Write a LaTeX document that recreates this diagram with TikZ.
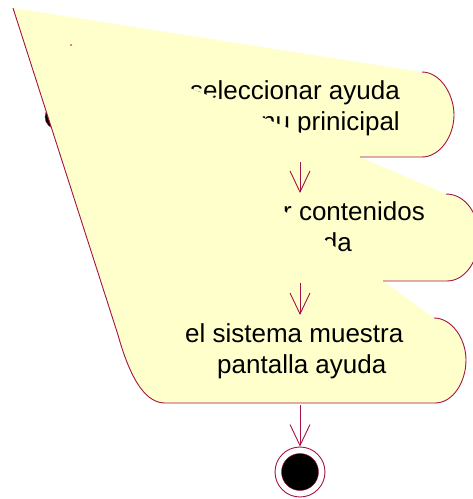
\documentclass[tikz,border=0pt]{standalone}
\usepackage{fontspec}
\setmainfont{Liberation Sans}
\usetikzlibrary{arrows.meta}
\definecolor{notefill}{RGB}{255,255,204}
\definecolor{umlline}{RGB}{165,18,68}
\tikzset{
  txt/.style={font=\fontsize{26}{31}\selectfont, inner sep=0pt, text=black},
  edgeline/.style={draw=umlline, line width=0.9pt},
  conn/.style={draw=umlline, line width=0.9pt, line join=round,
    -{Straight Barb[length=21pt,width=20pt,line width=0.9pt]}},
}
\begin{document}
\begin{tikzpicture}[x=1pt,y=-1pt]
\useasboundingbox (0,0) rectangle (473,499);
\clip (0,0) rectangle (473,499);
% initial node (mostly hidden)
\node[circle, fill=black, draw=umlline, minimum size=24pt, inner sep=0pt] (ini) at (57,117) {};
% distorted yellow shape
\fill[notefill] (13,8) -- (422,72)
  .. controls (440,72) and (454,94) .. (454,115)
  .. controls (454,136) and (440,157) .. (422,157)
  -- (360,157) -- (446,194)
  .. controls (466,194) and (479,215) .. (479,237)
  .. controls (479,259) and (466,281) .. (447,281)
  -- (383,281) -- (434,318)
  .. controls (452,318) and (466,339) .. (466,360)
  .. controls (466,382) and (453,403) .. (435,403)
  -- (165,403)
  .. controls (148,403) and (132,385) .. (118,335)
  -- cycle;
% stroked outline parts
\draw[edgeline] (422,72)
  .. controls (440,72) and (454,94) .. (454,115)
  .. controls (454,136) and (440,157) .. (422,157) -- (360,157);
\draw[edgeline] (446,194)
  .. controls (466,194) and (479,215) .. (479,237)
  .. controls (479,259) and (466,281) .. (447,281) -- (383,281);
\draw[edgeline] (434,318)
  .. controls (452,318) and (466,339) .. (466,360)
  .. controls (466,382) and (453,403) .. (435,403)
  -- (165,403)
  .. controls (148,403) and (132,385) .. (118,335) -- (13,8);
% texts
\node[txt, anchor=base east] (a1a) at (400,99) {seleccionar ayuda};
\node[txt, anchor=base east] (a1b) at (400,130) {nu prinicipal};
\node[txt, anchor=base east] (a2a) at (425,220.5) {r contenidos};
\node[txt, anchor=base east] (a2b) at (352,251.5) {da};
\node[txt, anchor=base west] (a3a) at (185,342) {el sistema muestra};
\node[txt, anchor=base west] (a3b) at (217,373) {pantalla ayuda};
% covering pieces
\fill[notefill] (360,157) -- (180,84) -- (180,157) -- cycle;
\fill[notefill] (383,281) -- (250,186.6) -- (250,281) -- cycle;
% small mark
\fill[umlline] (71,45) circle (0.8pt);
% final node
\node[circle, draw=umlline, fill=white, line width=0.9pt, minimum size=50pt, inner sep=0pt] (fin) at (300,472) {};
\node[circle, fill=black, draw=umlline, minimum size=37pt, inner sep=0pt] (fini) at (fin.center) {};
% connectors
\coordinate (s1) at (300,162);
\coordinate (e1) at (300,193);
\coordinate (s2) at (300,283);
\coordinate (e2) at (300,315);
\coordinate (s3) at (300,405);
\draw[conn] (s1) -- (e1);
\draw[conn] (s2) -- (e2);
\draw[conn] (s3) -- (fin.north);
\end{tikzpicture}
\end{document}
